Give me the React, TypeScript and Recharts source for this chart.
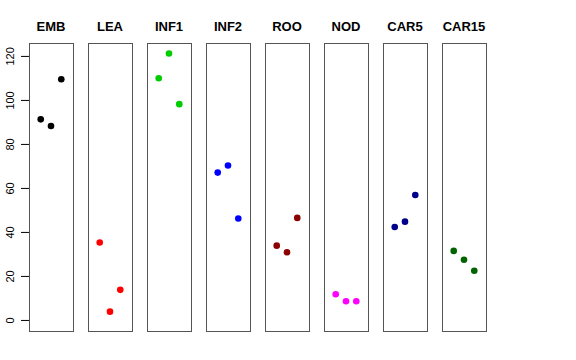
import { ScatterChart, Scatter, XAxis, YAxis } from "recharts";

const groups = ["EMB", "LEA", "INF1", "INF2", "ROO", "NOD", "CAR5", "CAR15"];
const emb = [91.4, 88.4, 109.6];
const lea = [35.4, 4.0, 13.9];
const inf1 = [110.1, 121.3, 98.3];
const inf2 = [67.2, 70.4, 46.3];
const roo = [34.0, 31.0, 46.6];
const nod = [11.9, 8.7, 8.7];
const car5 = [42.5, 44.9, 57.0];
const car15 = [31.6, 27.6, 22.6];
const groupValues = [emb, lea, inf1, inf2, roo, nod, car5, car15];
const colors = ["#000000", "#FF0000", "#00CD00", "#0000FF", "#8B0000", "#FF00FF", "#00008B", "#006400"];
const yTicks = [0, 20, 40, 60, 80, 100, 120];

const FIRST_LEFT = 29;
const STEP = 59;
const PANEL_W = 44;
const PANEL_TOP = 43;
const PANEL_H = 288;
const AXIS_W = 29;
const font = "'Liberation Sans', Arial, Helvetica, sans-serif";

function YTick(props: any) {
  const { x, y, payload } = props;
  return (
    <text
      x={x - 5}
      y={y}
      transform={`rotate(-90, ${x - 5}, ${y})`}
      textAnchor="middle"
      fontSize={11}
      fontFamily={font}
      fill="#000"
    >
      {payload.value}
    </text>
  );
}

function Panel({ index }: { index: number }) {
  const withAxis = index === 0;
  const data = groupValues[index].map((v, j) => ({ x: j + 1, y: v }));
  const left = FIRST_LEFT + STEP * index;
  const chartLeft = withAxis ? left - AXIS_W : left;
  const chartW = withAxis ? PANEL_W + AXIS_W : PANEL_W;

  return (
    <>
      <div
        style={{
          position: "absolute",
          left: left - 10,
          width: PANEL_W + 20,
          top: 19,
          textAlign: "center",
          fontFamily: font,
          fontWeight: "bold",
          fontSize: 13,
        }}
      >
        {groups[index]}
      </div>
      <div
        style={{
          position: "absolute",
          left: left,
          top: PANEL_TOP,
          width: PANEL_W + 1,
          height: PANEL_H + 1,
          border: "1px solid #555",
          boxSizing: "border-box",
        }}
      />
      <div style={{ position: "absolute", left: chartLeft, top: PANEL_TOP }}>
        <ScatterChart width={chartW} height={PANEL_H} margin={{ top: 0, right: 0, bottom: 0, left: 0 }}>
          <XAxis type="number" dataKey="x" domain={[-0.14, 4.14]} hide />
          <YAxis
            type="number"
            dataKey="y"
            domain={[-4.8, 126.1]}
            ticks={yTicks}
            allowDataOverflow
            hide={!withAxis}
            width={AXIS_W}
            axisLine={false}
            tickSize={8}
            tickLine={{ stroke: "#000" }}
            tick={<YTick />}
          />
          <Scatter
            data={data}
            fill={colors[index]}
            isAnimationActive={false}
            shape={(p: any) => <circle cx={p.cx} cy={p.cy} r={3.3} fill={colors[index]} />}
          />
        </ScatterChart>
      </div>
    </>
  );
}

export default function App() {
  return (
    <div
      style={{
        position: "absolute",
        left: 0,
        top: 0,
        width: 576,
        height: 360,
        background: "#fff",
        overflow: "hidden",
      }}
    >
      {groups.map((g, i) => (
        <Panel key={g} index={i} />
      ))}
    </div>
  );
}
